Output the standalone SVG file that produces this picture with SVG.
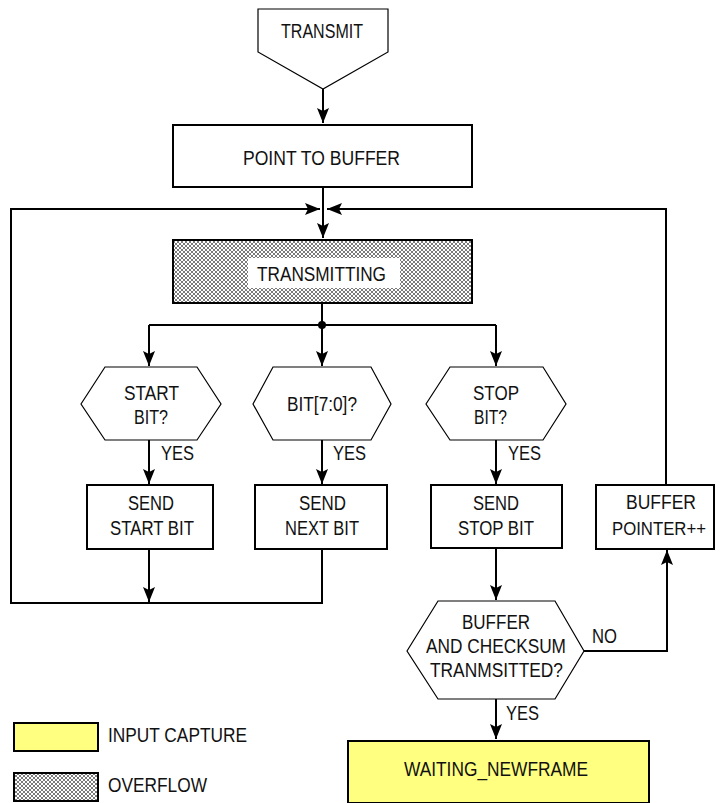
<svg xmlns="http://www.w3.org/2000/svg" width="720" height="803" viewBox="0 0 720 803">
<defs>
<style>
text{font-family:"Liberation Sans",Arial,sans-serif;font-size:20px;fill:#111;}
.box{fill:#fff;stroke:#000;stroke-width:2;}
.thin{fill:#fff;stroke:#000;stroke-width:1.2;}
.line{fill:none;stroke:#000;stroke-width:2;}
.hatch{fill:url(#xh);stroke:#000;stroke-width:2;}
.yellow{fill:#ffff80;stroke:#000;stroke-width:2;}
</style>
<pattern id="xh" width="4" height="4" patternUnits="userSpaceOnUse">
<rect width="4" height="4" fill="#fff"/>
<path d="M0,0 L4,4 M4,0 L0,4" stroke="#222" stroke-width="0.6"/>
</pattern>
<marker id="ah" markerUnits="userSpaceOnUse" markerWidth="16" markerHeight="12" refX="15" refY="6" orient="auto">
<path d="M0,0 L15,6 L0,12 L3,6 z" fill="#000"/>
</marker>
</defs>

<g id="connectors">
<path class="line" d="M323,89 L323,123" marker-end="url(#ah)"/>
<path class="line" d="M323,187 L323,238" marker-end="url(#ah)"/>
<path class="line" d="M322,549 L322,603 L11,603 L11,209 L320,209" marker-end="url(#ah)"/>
<path class="line" d="M149,549 L149,602" marker-end="url(#ah)"/>
<path class="line" d="M666,485 L666,209 L327,209" marker-end="url(#ah)"/>
<path class="line" d="M322,303 L322,325"/>
<path class="line" d="M149,325 L496,325"/>
<circle cx="322" cy="325" r="4" fill="#000"/>
<path class="line" d="M149,325 L149,366" marker-end="url(#ah)"/>
<path class="line" d="M322,325 L322,366" marker-end="url(#ah)"/>
<path class="line" d="M496,325 L496,366" marker-end="url(#ah)"/>
<path class="line" d="M149,440 L149,484" marker-end="url(#ah)"/>
<path class="line" d="M322,440 L322,484" marker-end="url(#ah)"/>
<path class="line" d="M496,440 L496,484" marker-end="url(#ah)"/>
<path class="line" d="M496,549 L496,600" marker-end="url(#ah)"/>
<path class="line" d="M584,651 L667,651 L667,550" marker-end="url(#ah)"/>
<path class="line" d="M496,699 L496,739" marker-end="url(#ah)"/>
<text x="161" y="460" textLength="33" lengthAdjust="spacingAndGlyphs">YES</text>
<text x="333" y="460" textLength="33" lengthAdjust="spacingAndGlyphs">YES</text>
<text x="508" y="460" textLength="33" lengthAdjust="spacingAndGlyphs">YES</text>
<text x="592" y="643" textLength="25" lengthAdjust="spacingAndGlyphs">NO</text>
<text x="506" y="720" textLength="33" lengthAdjust="spacingAndGlyphs">YES</text>
</g>

<g id="transmit">
<path class="thin" d="M258,9 L388,9 L388,52 L323,89 L258,52 z"/>
<text x="281" y="38" textLength="82" lengthAdjust="spacingAndGlyphs">TRANSMIT</text>
</g>

<g id="point-to-buffer">
<rect class="box" x="173" y="125" width="299" height="62"/>
<text x="243" y="165" textLength="157" lengthAdjust="spacingAndGlyphs">POINT TO BUFFER</text>
</g>

<g id="transmitting">
<rect class="hatch" x="173" y="240" width="299" height="63"/>
<rect x="248" y="258" width="152" height="30" fill="#fff"/>
<text x="257" y="281" textLength="129" lengthAdjust="spacingAndGlyphs">TRANSMITTING</text>
</g>

<g id="start-bit-q">
<path class="thin" d="M81,404 L105,367 L197,367 L221,404 L197,440 L105,440 z"/>
<text x="124" y="400" textLength="55" lengthAdjust="spacingAndGlyphs">START</text>
<text x="134" y="424" textLength="34" lengthAdjust="spacingAndGlyphs">BIT?</text>
</g>

<g id="bit-q">
<path class="thin" d="M253,404 L273,367 L371,367 L391,404 L371,440 L273,440 z"/>
<text x="287" y="411" textLength="70" lengthAdjust="spacingAndGlyphs">BIT[7:0]?</text>
</g>

<g id="stop-bit-q">
<path class="thin" d="M426,404 L450,367 L543,367 L566,404 L543,440 L450,440 z"/>
<text x="473" y="400" textLength="46" lengthAdjust="spacingAndGlyphs">STOP</text>
<text x="474" y="424" textLength="33" lengthAdjust="spacingAndGlyphs">BIT?</text>
</g>

<g id="send-start-bit">
<rect class="box" x="87" y="485" width="126" height="64"/>
<text x="128" y="510" textLength="46" lengthAdjust="spacingAndGlyphs">SEND</text>
<text x="110" y="535" textLength="84" lengthAdjust="spacingAndGlyphs">START BIT</text>
</g>

<g id="send-next-bit">
<rect class="box" x="255" y="485" width="132" height="64"/>
<text x="299" y="510" textLength="47" lengthAdjust="spacingAndGlyphs">SEND</text>
<text x="285" y="535" textLength="74" lengthAdjust="spacingAndGlyphs">NEXT BIT</text>
</g>

<g id="send-stop-bit">
<rect class="box" x="431" y="485" width="131" height="63"/>
<text x="473" y="510" textLength="46" lengthAdjust="spacingAndGlyphs">SEND</text>
<text x="458" y="535" textLength="76" lengthAdjust="spacingAndGlyphs">STOP BIT</text>
</g>

<g id="buffer-pointer">
<rect class="box" x="596" y="485" width="118" height="64"/>
<text x="626" y="509" textLength="70" lengthAdjust="spacingAndGlyphs">BUFFER</text>
<text x="612" y="535" textLength="94" lengthAdjust="spacingAndGlyphs" style="font-size:18px">POINTER++</text>
</g>

<g id="buffer-checksum-q">
<path class="thin" d="M407,651 L438,601 L555,601 L584,651 L555,699 L438,699 z"/>
<text x="462" y="629" textLength="68" lengthAdjust="spacingAndGlyphs">BUFFER</text>
<text x="426" y="653" textLength="140" lengthAdjust="spacingAndGlyphs">AND CHECKSUM</text>
<text x="430" y="677" textLength="133" lengthAdjust="spacingAndGlyphs">TRANMSITTED?</text>
</g>

<g id="waiting-newframe">
<rect class="yellow" x="348" y="741" width="301" height="62"/>
<text x="404" y="776" textLength="184" lengthAdjust="spacingAndGlyphs">WAITING_NEWFRAME</text>
</g>

<g id="legend">
<rect class="yellow" x="14" y="723" width="84" height="28"/>
<text x="108" y="742" textLength="139" lengthAdjust="spacingAndGlyphs">INPUT CAPTURE</text>
<rect class="hatch" x="14" y="773" width="84" height="28"/>
<text x="108" y="792" textLength="99" lengthAdjust="spacingAndGlyphs">OVERFLOW</text>
</g>
</svg>
